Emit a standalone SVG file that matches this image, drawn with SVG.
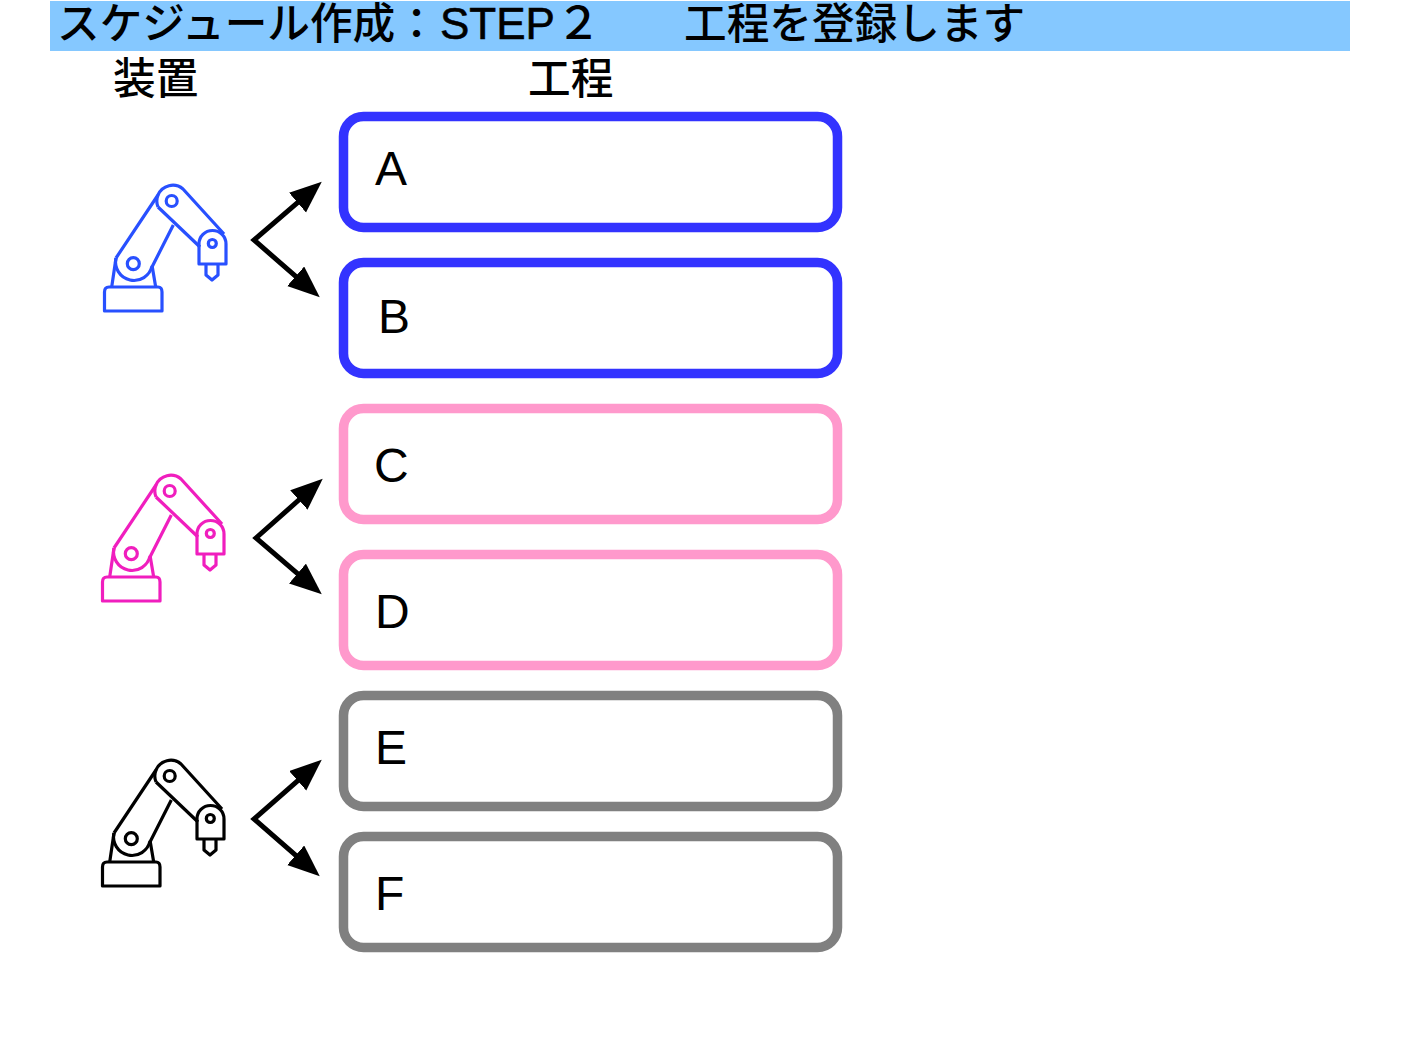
<svg xmlns="http://www.w3.org/2000/svg" width="1411" height="1058" viewBox="0 0 1411 1058">
<style>
text{font-family:"Noto Sans CJK JP","Liberation Sans",sans-serif;fill:#000}
.h{font-size:42.67px;font-weight:500}
.latin{font-family:"Liberation Sans","Noto Sans CJK JP",sans-serif;font-size:44px;stroke:#000;stroke-width:.6}
.l{font-family:"Liberation Sans","Noto Sans CJK JP",sans-serif;font-size:48px}
.box{fill:#fff;stroke-width:9.5}
.blue{stroke:#3333ff}.pink{stroke:#ff99cc}.gray{stroke:#808080}
.c{fill:none;stroke:#000;stroke-width:5;stroke-linejoin:miter;stroke-miterlimit:8}
.r{fill:none;stroke-width:3.2;stroke-linejoin:round}
</style>
<defs>
<marker id="ah" markerUnits="userSpaceOnUse" markerWidth="36" markerHeight="28" refX="12" refY="13" orient="auto-start-reverse"><path d="M0 0L32 13L0 26Z" fill="#000"/></marker>
<g id="robot">
<path d="M104.500 311V292Q104.500 287 109 287H158Q162 287 162 292V311Z"/>
<path d="M111.700 287L116 258M152.300 267L155.700 287"/>
<path d="M116 258L158 195A16 16 0 0 1 183 189L224 234M152 267L173.300 225M158 207L200 247"/>
<path d="M116 258A18 18 0 1 0 152 266"/>
<circle cx="133.300" cy="263.700" r="6"/>
<path d="M158 195A16 16 0 0 0 158 207"/>
<circle cx="171.700" cy="201" r="5.500"/>
<path d="M199 264V244A13.500 13.500 0 0 1 226 244V264Z"/>
<circle cx="212.300" cy="243.500" r="4"/>
<path d="M206 264V275L212 280L218 275V264"/>
</g>
</defs>
<rect x="50" y="1" width="1300" height="50" fill="#85c8ff"/>
<text id="title" class="h" x="57" y="39">スケジュール作成：<tspan class="latin" x="440">STEP</tspan><tspan x="556" font-size="45">２</tspan></text>
<text id="title2" class="h" x="684" y="39">工程を登録します</text>
<text id="h1" class="h" x="113" y="94">装置</text>
<text id="h2" class="h" x="528" y="94">工程</text>
<g id="robot-blue"><use href="#robot" class="r" stroke="#2850ff"/></g>
<g id="robot-pink"><use href="#robot" class="r" stroke="#f01ebe" x="-2" y="290"/></g>
<g id="robot-black"><use href="#robot" class="r" stroke="#000" x="-2" y="575"/></g>
<g id="connectors">
<path class="c" d="M306.600 194.800L254 240L304.700 284.200" marker-start="url(#ah)" marker-end="url(#ah)"/>
<path class="c" d="M307.800 492L256 538L306.600 581.300" marker-start="url(#ah)" marker-end="url(#ah)"/>
<path class="c" d="M306.700 772.900L254 819L304.700 863.200" marker-start="url(#ah)" marker-end="url(#ah)"/>
</g>
<g id="node-a"><rect class="box blue" x="343.500" y="116.500" width="494" height="111" rx="20"/><text class="l" x="375" y="185">A</text></g>
<g id="node-b"><rect class="box blue" x="343.500" y="262.500" width="494" height="111" rx="20"/><text class="l" x="378" y="333">B</text></g>
<g id="node-c"><rect class="box pink" x="343.500" y="408.500" width="494" height="111" rx="20"/><text class="l" x="374" y="482">C</text></g>
<g id="node-d"><rect class="box pink" x="343.500" y="554.500" width="494" height="111" rx="20"/><text class="l" x="375" y="628">D</text></g>
<g id="node-e"><rect class="box gray" x="343.500" y="695.500" width="494" height="111" rx="20"/><text class="l" x="375" y="764">E</text></g>
<g id="node-f"><rect class="box gray" x="343.500" y="836.500" width="494" height="111" rx="20"/><text class="l" x="375" y="910">F</text></g>
</svg>
